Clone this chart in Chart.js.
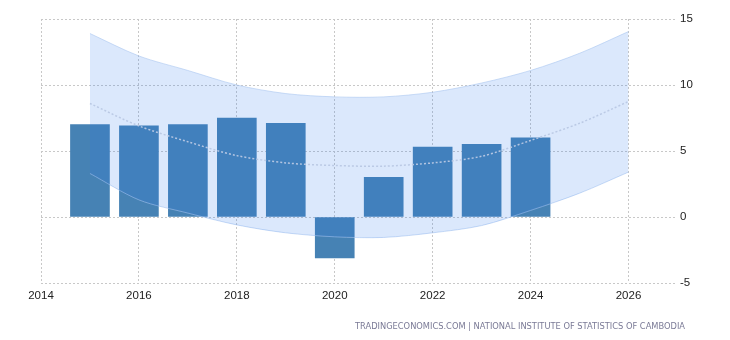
<!DOCTYPE html>
<html>
<head>
<meta charset="utf-8">
<script src="https://cdn.jsdelivr.net/npm/chart.js@4/dist/chart.umd.min.js"></script>
<style>
  html, body { margin: 0; padding: 0; background: #fff; }
  #wrap { position: relative; width: 730px; height: 340px; }
  #c { position: absolute; left: 0; top: 0; }
  #src { position: absolute; top: 321px; right: 45px; font-family: "DejaVu Sans", sans-serif; font-size: 8.3px; color: #7a7a96; white-space: nowrap; }
</style>
</head>
<body>
<div id="wrap">
  <canvas id="c" width="730" height="340"></canvas>
  <div id="src">TRADINGECONOMICS.COM | NATIONAL INSTITUTE OF STATISTICS OF CAMBODIA</div>
</div>
<script>
// Actual GDP growth (%) by year
const barYears = [2015, 2016, 2017, 2018, 2019, 2020, 2021, 2022, 2023, 2024];
const barValues = [7.0, 6.9, 7.0, 7.5, 7.1, -3.1, 3.0, 5.3, 5.5, 6.0];

// Forecast band
const bandYears = [2015, 2016, 2017, 2018, 2019, 2020, 2021, 2022, 2023, 2024, 2025, 2026];
const bandUpper = [13.9, 12.2, 11.1, 10.0, 9.35, 9.1, 9.1, 9.45, 10.15, 11.1, 12.4, 14.05];
const bandMid   = [8.6, 6.9, 5.7, 4.65, 4.1, 3.9, 3.85, 4.1, 4.6, 5.8, 7.1, 8.75];
const bandLower = [3.3, 1.3, 0.3, -0.6, -1.2, -1.5, -1.55, -1.2, -0.65, 0.5, 1.8, 3.4];

// Axis ticks
const yTicks = [-5, 0, 5, 10, 15];
const xTickYears = [2014, 2016, 2018, 2020, 2022, 2024, 2026];

const pts = (xs, ys) => xs.map((x, i) => ({ x: x, y: ys[i] }));
const gridColor = '#c8c8c8';
const tickFont = { family: 'Liberation Sans, Arial', size: 11.5 };

new Chart(document.getElementById('c'), {
  data: {
    datasets: [
      {
        type: 'bar',
        data: pts(barYears, barValues),
        backgroundColor: '#4682B4',
        barThickness: 39,
        order: 3
      },
      {
        type: 'line',
        data: pts(bandYears, bandUpper),
        borderColor: 'rgba(170,198,240,0.6)',
        borderWidth: 1,
        backgroundColor: 'rgba(40,120,235,0.17)',
        fill: '+1',
        pointRadius: 0,
        tension: 0.3,
        order: 1
      },
      {
        type: 'line',
        data: pts(bandYears, bandLower),
        borderColor: 'rgba(170,198,240,0.6)',
        borderWidth: 1,
        fill: false,
        pointRadius: 0,
        tension: 0.3,
        order: 2
      },
      {
        type: 'line',
        data: pts(bandYears, bandMid),
        borderColor: 'rgba(185,200,228,0.95)',
        borderWidth: 1.5,
        borderDash: [2, 2],
        fill: false,
        pointRadius: 0,
        tension: 0.3,
        order: 0
      }
    ]
  },
  options: {
    responsive: false,
    animation: false,
    events: [],
    layout: { padding: { left: 41, right: 0, top: 19, bottom: 27 } },
    plugins: { legend: { display: false }, tooltip: { enabled: false } },
    scales: {
      x: {
        type: 'linear',
        offset: false,
        min: 2014,
        max: 2026.95,
        afterBuildTicks: (s) => { s.ticks = xTickYears.map(v => ({ value: v })); },
        afterFit: (s) => { s.height = 30; },
        ticks: { padding: 6, color: '#222', font: tickFont, maxRotation: 0, callback: (v) => String(v) },
        grid: { color: gridColor, drawTicks: false, lineWidth: 1, offset: false },
        border: { display: false, dash: [2, 2] }
      },
      y: {
        position: 'right',
        min: -5,
        max: 15,
        afterBuildTicks: (s) => { s.ticks = yTicks.map(v => ({ value: v })); },
        afterFit: (s) => { s.width = 55; },
        ticks: { padding: 5, color: '#222', font: tickFont, callback: (v) => String(v) },
        grid: { color: gridColor, drawTicks: false, lineWidth: 1 },
        border: { display: false, dash: [2, 2] }
      }
    }
  }
});

// fit the source line to the reference width
(function () {
  const el = document.getElementById('src');
  const target = 330;
  const w = el.getBoundingClientRect().width;
  const n = el.textContent.length;
  el.style.letterSpacing = ((target - w) / n) + 'px';
})();
</script>
</body>
</html>
